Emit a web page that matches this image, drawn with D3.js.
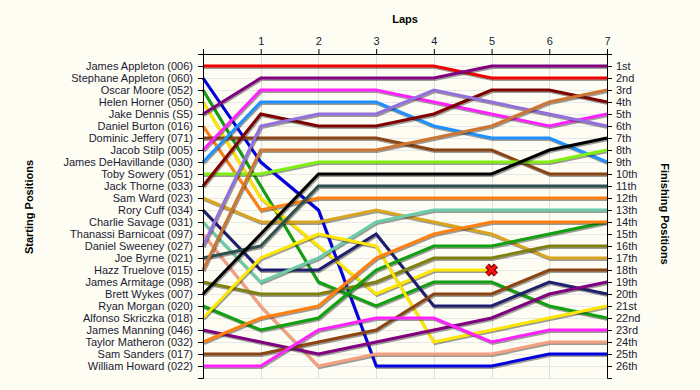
<!DOCTYPE html>
<html><head><meta charset="utf-8">
<script src="https://cdn.jsdelivr.net/npm/d3@7"></script>
<style>body{margin:0;background:#FDFDF3;} svg{display:block;font-family:"Liberation Sans",Arial,sans-serif;}</style>
</head><body><svg id="c" width="700" height="390"></svg>
<script>
const laps = [0,1,2,3,4,5,6,7];
const drivers = [
  "James Appleton (006)","Stephane Appleton (060)","Oscar Moore (052)","Helen Horner (050)",
  "Jake Dennis (S5)","Daniel Burton (016)","Dominic Jeffery (071)","Jacob Stilp (005)",
  "James DeHavillande (030)","Toby Sowery (051)","Jack Thorne (033)","Sam Ward (023)",
  "Rory Cuff (034)","Charlie Savage (031)","Thanassi Barnicoat (097)","Daniel Sweeney (027)",
  "Joe Byrne (021)","Hazz Truelove (015)","James Armitage (098)","Brett Wykes (007)",
  "Ryan Morgan (020)","Alfonso Skriczka (018)","James Manning (046)","Taylor Matheron (032)",
  "Sam Sanders (017)","William Howard (022)"
];
// position of each driver after each lap (index = lap)
const lapPositions = [
  [1,1,1,1,1,2,2,2],
  [2,9,13,26,26,26,25,25],
  [3,11,19,21,19,19,21,22],
  [4,12,16,20,18,18],
  [5,2,2,2,2,1,1,1],
  [6,13,12,12,12,12,12,12],
  [7,7,7,7,8,8,10,10],
  [8,3,3,3,4,5,6,5],
  [9,4,4,4,6,7,7,9],
  [10,10,9,9,9,9,9,8],
  [11,5,6,6,5,3,3,4],
  [12,14,14,13,14,15,17,17],
  [13,18,18,15,21,21,19,20],
  [14,19,17,14,13,13,13,13],
  [15,21,26,25,25,25,24,24],
  [16,6,5,5,3,4,5,6],
  [17,16,11,11,11,11,11,11],
  [18,8,8,8,7,6,4,3],
  [19,20,20,19,17,17,16,16],
  [20,15,10,10,10,10,8,7],
  [21,23,22,18,16,16,15,14],
  [22,17,15,16,24,23,22,21],
  [23,24,25,24,23,22,20,19],
  [24,22,21,17,15,14,14,14],
  [25,25,24,23,20,20,18,18],
  [26,26,23,22,22,24,23,23]
];
const colors = [
  "#F00000","#0000E0","#10A010","#FFE600","#800080","#FF8010","#8B4513","#FF22FF",
  "#1E90FF","#7FF010","#800000","#DAA520","#1F1F70","#6CCBA8","#F5A080","#9370DB",
  "#2F4F4F","#CD7532","#808010","#000000","#10A010","#FFE600","#800080","#FF8010",
  "#8B4513","#FF22FF"
];
const finishLabels = ["1st","2nd","3rd","4th","5th","6th","7th","8th","9th","10th","11th","12th","13th",
  "14th","15th","16th","17th","18th","19th","20th","21st","22nd","23rd","24th","25th","26th"];
const retiredDriver = 3; // Helen Horner, out after lap 5

const svg = d3.select("#c");
svg.append("rect").attr("width",700).attr("height",390).attr("fill","#FDFDF3");
const x = d3.scaleLinear().domain([0,7]).range([203,607]);
const y = d3.scaleLinear().domain([0,27]).range([54,378]);
const posTicks = d3.range(1,27);

// grid
const grid = svg.append("g");
grid.selectAll("line.h").data(posTicks.concat([27])).join("line")
  .attr("x1",x(0)).attr("x2",x(7)).attr("y1",d=>y(d)+0.5).attr("y2",d=>y(d)+0.5)
  .attr("stroke","#E8E8E8").attr("stroke-width",1);
grid.selectAll("line.v").data(laps.slice(1)).join("line")
  .attr("y1",y(0)).attr("y2",y(27)).attr("x1",d=>Math.round(x(d))+0.5).attr("x2",d=>Math.round(x(d))+0.5)
  .attr("stroke","#E0E0E0").attr("stroke-width",1);

// lines
const line = d3.line().x((d,i)=>x(i)).y(d=>y(d));
const lines = svg.append("g");
lapPositions.forEach((p,i)=>{
  lines.append("path").attr("d",line(p)).attr("fill","none")
    .attr("stroke","rgba(40,40,40,0.45)").attr("stroke-width",3).attr("transform","translate(1,1.5)")
    .attr("stroke-linejoin","miter");
  lines.append("path").attr("d",line(p)).attr("fill","none")
    .attr("stroke",colors[i]).attr("stroke-width",3).attr("stroke-linejoin","miter");
});

// retired marker
const rp = lapPositions[retiredDriver];
const rx = x(rp.length-1), ry = y(rp[rp.length-1]);
const xs = 4.5;
const xPath = `M${rx-xs},${ry-xs}L${rx+xs},${ry+xs}M${rx+xs},${ry-xs}L${rx-xs},${ry+xs}`;
svg.append("path").attr("d",xPath).attr("stroke","#7A0000").attr("stroke-width",5.5).attr("fill","none");
svg.append("path").attr("d",xPath).attr("stroke","#FF1010").attr("stroke-width",3).attr("fill","none");

// axes
const axStyle = g => {
  g.selectAll("text").attr("fill","#1A1A33").style("font-size","11px")
    .style("font-family","'Liberation Sans',Arial,sans-serif");
  g.selectAll("path,line").attr("stroke","#000");
};
svg.append("g").attr("transform",`translate(${x(0)},0)`)
  .call(d3.axisLeft(y).tickValues(posTicks).tickFormat(d=>drivers[d-1]).tickSize(5).tickPadding(5))
  .call(axStyle);
svg.append("g").attr("transform",`translate(${x(7)},0)`)
  .call(d3.axisRight(y).tickValues(posTicks).tickFormat(d=>finishLabels[d-1]).tickSize(5).tickPadding(4))
  .call(axStyle);
svg.append("g").attr("transform",`translate(0,${y(0)})`)
  .call(d3.axisTop(x).tickValues(laps).tickFormat(d=>d===0?"":d).tickSize(5).tickPadding(4))
  .call(axStyle);

// titles
svg.append("text").attr("x",405).attr("y",23).attr("text-anchor","middle")
  .style("font-size","11px").style("font-weight","bold").text("Laps");
svg.append("text").attr("transform","translate(33,207) rotate(-90)").attr("text-anchor","middle")
  .style("font-size","11px").style("font-weight","bold").text("Starting Positions");
svg.append("text").attr("transform","translate(661,214) rotate(90)").attr("text-anchor","middle")
  .style("font-size","11px").style("font-weight","bold").text("Finishing Positions");
</script></body></html>
